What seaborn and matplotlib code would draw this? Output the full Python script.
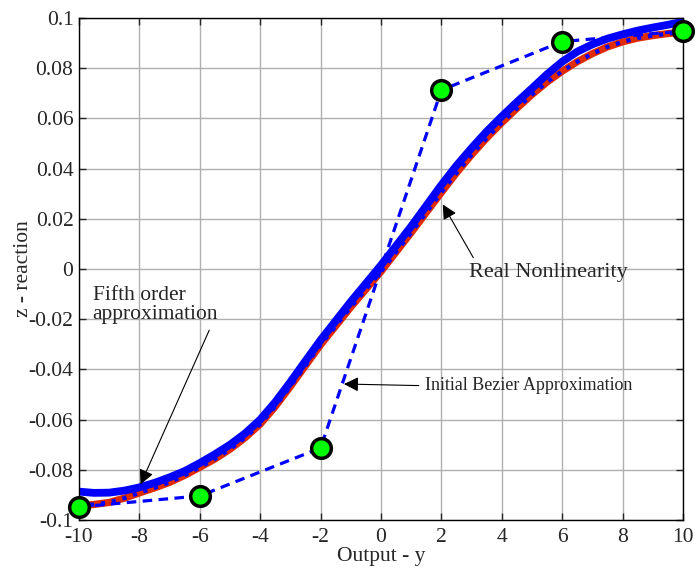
import numpy as np
import pandas as pd
import seaborn as sns
import matplotlib.pyplot as plt

# output axis samples
y_out = [-10, -9.5, -9, -8.5, -8, -7.5, -7, -6.5, -6, -5.5, -5, -4.5, -4, -3.5,
         -3, -2.5, -2, -1, 0, 1, 2, 2.5, 3, 3.5, 4, 4.5, 5, 5.5, 6, 6.5, 7,
         7.5, 8, 8.5, 9, 9.5, 10]

# real nonlinearity (red)
z_real = [-0.0944, -0.0938, -0.0930, -0.0913, -0.0892, -0.0872, -0.0850,
          -0.0822, -0.0790, -0.0757, -0.0718, -0.0672, -0.0618, -0.0548,
          -0.0468, -0.0385, -0.0302, -0.0152, -0.0010, 0.0145, 0.0305,
          0.0383, 0.0455, 0.0522, 0.0583, 0.0640, 0.0695, 0.0745, 0.0788,
          0.0826, 0.0858, 0.0885, 0.0905, 0.0920, 0.0930, 0.0938, 0.0944]

# fifth order approximation (blue)
z_fifth = [-0.0887, -0.0892, -0.0891, -0.0883, -0.0870, -0.0852, -0.0830,
           -0.0805, -0.0773, -0.0738, -0.0700, -0.0655, -0.0600, -0.0530,
           -0.0450, -0.0366, -0.0283, -0.0130, 0.0015, 0.0170, 0.0335,
           0.0412, 0.0482, 0.0548, 0.0608, 0.0665, 0.0720, 0.0776, 0.0826,
           0.0866, 0.0895, 0.0918, 0.0935, 0.0950, 0.0962, 0.0973, 0.0985]

# bezier control points
ctrl_y = [-10, -6, -2, 2, 6, 10]
ctrl_z = [-0.0948, -0.0904, -0.0713, 0.0713, 0.0906, 0.0948]

curves = pd.DataFrame({"y": y_out, "real": z_real, "fifth": z_fifth})
ctrl = pd.DataFrame({"y": ctrl_y, "z": ctrl_z})

sns.set_style("ticks")
plt.rcParams["font.family"] = ["Liberation Serif", "DejaVu Serif"]
plt.rcParams["axes.unicode_minus"] = False
plt.rcParams["xtick.direction"] = "in"
plt.rcParams["ytick.direction"] = "in"

fig = plt.figure(figsize=(6.95, 5.81), dpi=100)
ax = fig.add_axes([0.1137, 0.105, 0.869, 0.864])

sns.lineplot(data=curves, x="y", y="real", color="#e02a00", linewidth=5.2, ax=ax)
sns.lineplot(data=curves, x="y", y="real", color="blue", linewidth=3, linestyle=":", ax=ax)
sns.lineplot(data=curves, x="y", y="fifth", color="blue", linewidth=5.6, ax=ax)
sns.lineplot(data=ctrl, x="y", y="z", color="blue", linewidth=2.3, ax=ax,
             linestyle=(0, (3, 2)), zorder=4)
sns.scatterplot(data=ctrl, x="y", y="z", color="#00ff00", s=200, edgecolor="black",
                linewidth=2.5, ax=ax, zorder=5, clip_on=False)

ax.set_xlim(-10, 10)
ax.set_ylim(-0.1, 0.1)
ax.set_xticks(range(-10, 11, 2))
ax.set_yticks(np.round(np.arange(-0.1, 0.101, 0.02), 2))
ax.set_yticklabels(["-0.1", "-0.08", "-0.06", "-0.04", "-0.02", "0",
                    "0.02", "0.04", "0.06", "0.08", "0.1"])
ax.grid(True, color="#b0b0b0", linewidth=1)
ax.tick_params(labelsize=15.5, top=True, right=True, length=5, width=1, pad=4)
ax.tick_params(axis="x", pad=6)
for s in ax.spines.values():
    s.set_color("black")
    s.set_linewidth(1)
ax.set_xlabel("Output - y", fontsize=15.5, labelpad=0)
ax.set_ylabel("z - reaction", fontsize=15.5, labelpad=-3)

ax.annotate("Fifth order\napproximation", xy=(-8, -0.0868), xytext=(-9.55, -0.0145),
            fontsize=15.5, ha="left", va="center", linespacing=1.0,
            arrowprops=dict(arrowstyle="-|>", color="black", lw=0.8,
                            mutation_scale=22, relpos=(0.95, 0)))
ax.annotate("Real Nonlinearity", xy=(2.0, 0.0267), xytext=(2.9, -0.0015),
            fontsize=16, ha="left", va="center",
            arrowprops=dict(arrowstyle="-|>", color="black", lw=0.8,
                            mutation_scale=22, relpos=(0.05, 1)))
ax.annotate("Initial Bezier Approximation", xy=(-1.32, -0.0458), xytext=(1.45, -0.0465),
            fontsize=13, ha="left", va="center",
            arrowprops=dict(arrowstyle="-|>", color="black", lw=0.8,
                            mutation_scale=22, relpos=(0, 0.5)))

fig.savefig("out.png", dpi=100)
